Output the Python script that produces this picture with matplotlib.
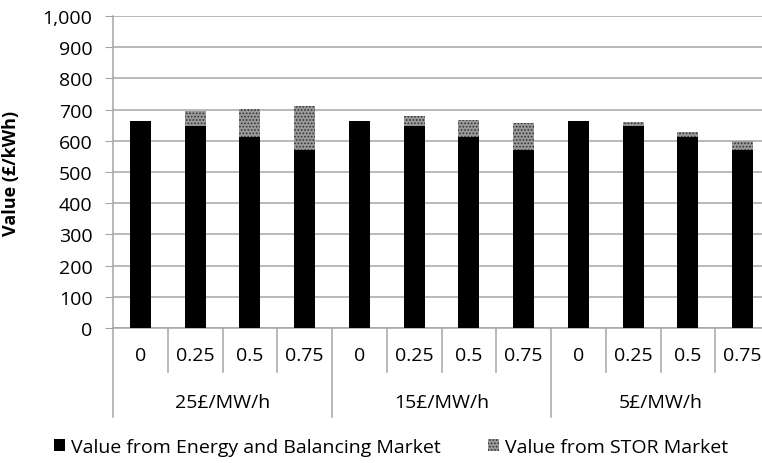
import numpy as np
import matplotlib
matplotlib.use("Agg")
import matplotlib.pyplot as plt
import matplotlib.transforms as mtransforms
from matplotlib.patches import Patch
from matplotlib.ticker import FuncFormatter

# values (£/kWh)
groups = ['25£/MW/h', '15£/MW/h', '5£/MW/h']
ratios = ['0', '0.25', '0.5', '0.75']
energy = [663, 649, 612, 572, 663, 649, 612, 572, 663, 649, 612, 572]
stor = [0, 47, 91, 138, 0, 30, 55, 85, 0, 12, 17, 28]

plt.rcParams['font.family'] = ['Open Sans', 'DejaVu Sans']
plt.rcParams['hatch.linewidth'] = 0.8

grid_c = '#a6a6a6'
fs = 14
fig = plt.figure(figsize=(7.62, 4.64), dpi=100)
ax = fig.add_axes([113/762, 135/464, 657/762, 312/464])

x = np.arange(len(energy))
ax.bar(x, energy, width=0.385, color='black', zorder=3)
ax.bar(x, stor, width=0.385, bottom=energy, facecolor='#9a9a9a', hatch='.....',
       edgecolor='#333333', linewidth=0, zorder=3)

ax.set_xlim(-0.5, len(energy) - 0.5)
ax.set_ylim(0, 1000)
ax.set_yticks(np.arange(0, 1001, 100))
ax.yaxis.set_major_formatter(FuncFormatter(lambda v, p: f'{int(v):,}'))
ax.grid(axis='y', color=grid_c, linewidth=1.1, zorder=0)
ax.set_axisbelow(True)
for s in ['top', 'right']:
    ax.spines[s].set_visible(False)
for s in ['left', 'bottom']:
    ax.spines[s].set_color(grid_c)
    ax.spines[s].set_linewidth(1.1)
ax.tick_params(axis='y', length=5.8, color=grid_c, labelsize=fs, pad=9)
ax.set_xticks([])

ax.set_ylabel('Value (£/kWh)', fontsize=13, fontweight='bold')
ax.yaxis.set_label_coords(-0.142, 0.5)

# multi-level category axis
trans = mtransforms.blended_transform_factory(ax.transData, ax.transAxes)
sub_y, grp_y = -44/312, -89/312
for i in range(len(energy) + 1):
    low = grp_y if i % 4 == 0 else sub_y
    ax.plot([i - 0.5, i - 0.5], [0, low], transform=trans, color=grid_c,
            linewidth=1.1, clip_on=False)
for i in range(len(energy)):
    ax.text(i, -27/312, ratios[i % 4], transform=trans, ha='center',
            va='center', fontsize=fs)
for g, name in enumerate(groups):
    ax.text(g * 4 + 1.5, -74/312, name, transform=trans, ha='center',
            va='center', fontsize=fs)

handles = [Patch(facecolor='black', label='Value from Energy and Balancing Market'),
           Patch(facecolor='#9a9a9a', hatch='.....', edgecolor='#333333',
                 linewidth=0, label='Value from STOR Market')]
fig.legend(handles=handles, loc='center', bbox_to_anchor=(0.513, 0.035), ncol=2,
           frameon=False, fontsize=fs, handlelength=0.6, handleheight=0.6,
           handletextpad=0.3, columnspacing=2.4)

fig.savefig('out.png', dpi=100)
